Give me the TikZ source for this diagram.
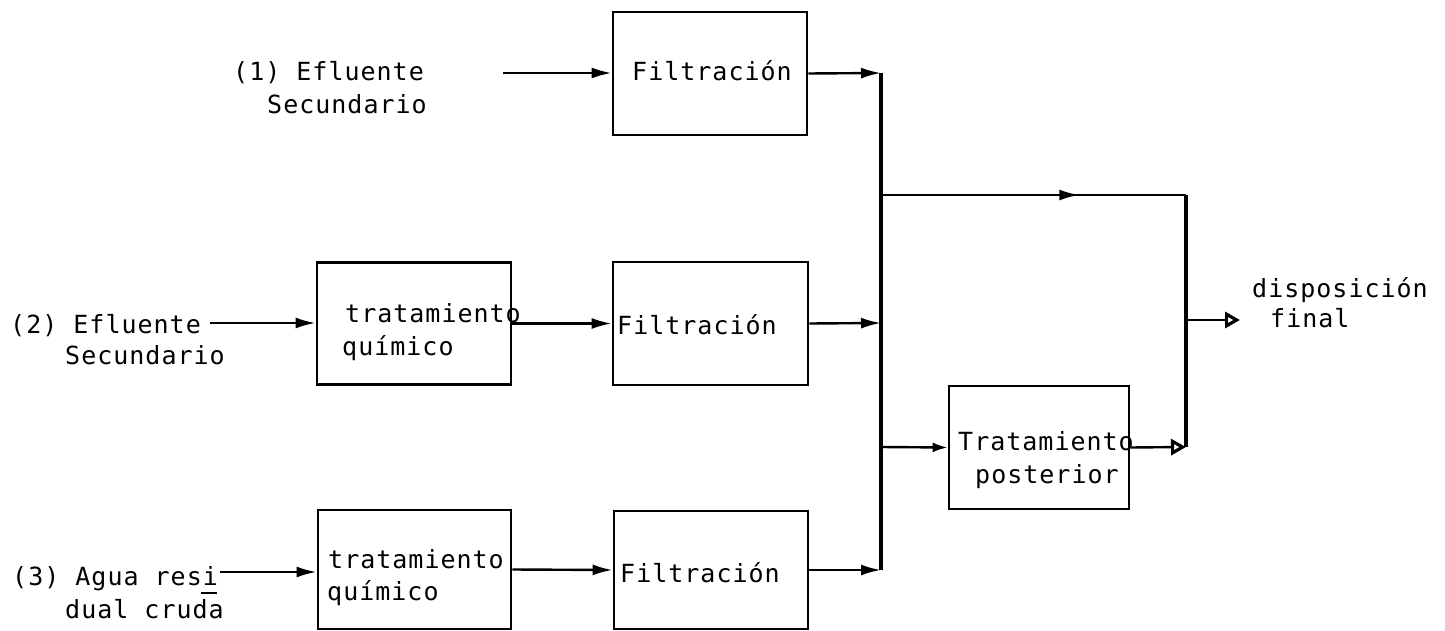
\documentclass[tikz,border=0pt]{standalone}
\usepackage{fontspec}
\setmonofont[LetterSpace=4]{DejaVu Sans Mono}
\usetikzlibrary{arrows.meta,decorations.markings}

\tikzset{
  box/.style={draw, line width=2.8pt, inner sep=0pt},
  lbl/.style={anchor=base west, inner sep=0pt, font=\ttfamily\fontsize{25}{30}\selectfont},
  flow/.style={line width=2.4pt, -{Latex[length=20pt,width=11pt]}},
  openflow/.style={line width=2.4pt, -{Triangle[open,length=15pt,width=16pt,line width=3.2pt]}},
  wire/.style={line width=3pt},
  midarrow/.style={line width=2.4pt, decoration={markings,
      mark=at position 0.65 with {\arrow{Latex[length=20pt,width=11pt]}}},
      postaction={decorate}},
}

\begin{document}
\begin{tikzpicture}[x=1pt,y=-1pt]
\useasboundingbox (0,0) rectangle (1445,631);

% process boxes
\node[box, minimum width=194pt, minimum height=123pt] (f1) at (710,73.5) {};
\node[box, minimum width=194pt, minimum height=122pt] (t2) at (414,323.5) {};
\node[box, minimum width=195pt, minimum height=123pt] (f2) at (710.5,323.5) {};
\node[box, minimum width=193pt, minimum height=119pt] (t3) at (414.5,569.5) {};
\node[box, minimum width=194pt, minimum height=118pt] (f3) at (711,570) {};
\node[box, minimum width=180pt, minimum height=123pt] (post) at (1039,447.5) {};

% labels
\node[lbl] (s1a) at (233,81) {(1) Efluente};
\node[lbl] (s1b) at (267,114) {Secundario};
\node[lbl] (s2a) at (10,333) {(2) Efluente};
\node[lbl] (s2b) at (65,364) {Secundario};
\node[lbl] (s3a) at (12,585) {(3) Agua resi};
\node[lbl] (s3b) at (65,618) {dual cruda};
\node[lbl] (lf1) at (632,81) {Filtración};
\node[lbl] (lt2a) at (345,322) {tratamiento};
\node[lbl] (lt2b) at (342,355) {químico};
\node[lbl] (lf2) at (617,334) {Filtración};
\node[lbl] (lt3a) at (328,568) {tratamiento};
\node[lbl] (lt3b) at (327,600) {químico};
\node[lbl] (lf3) at (620,582) {Filtración};
\node[lbl] (lp1) at (958,450) {Tratamiento};
\node[lbl] (lp2) at (975,483) {posterior};
\node[lbl] (ld1) at (1252,297) {disposición};
\node[lbl] (ld2) at (1270,327) {final};

% hyphen mark between the two lines of source (3)
\coordinate (hy1) at (201,593);
\coordinate (hy2) at (217,593);
\draw[line width=1.8pt] (hy1) -- (hy2);

% free ends and junctions
\coordinate (in1) at (503,73);
\coordinate (in2) at (210,323);
\coordinate (in3) at (220,572);
\coordinate (j1) at (881,73);
\coordinate (j2) at (881,323);
\coordinate (j3) at (881,570);
\coordinate (b1) at (881,195);
\coordinate (b2) at (881,447);
\coordinate (c1) at (1186,195);
\coordinate (c2) at (1186,447);
\coordinate (d1) at (1186,320);
\coordinate (d2) at (1240,320);

% inputs
\draw[flow] (in1) -- (in1 -| f1.west);
\draw[flow] (in2) -- (in2 -| t2.west);
\draw[flow] (in3) -- (in3 -| t3.west);

% chemical treatment to filtration
\draw[flow] (t2.east) -- (f2.west);
\draw[flow] (t3.east) -- (f3.west);

% filtration outputs to the collector
\draw[flow] (f1.east) -- (j1);
\draw[flow] (f2.east) -- (j2);
\draw[flow] (f3.east) -- (j3);
\draw[wire, line width=3.4pt] (j1) -- (j3);

% direct branch and post-treatment branch
\draw[midarrow] (b1) -- (c1);
\draw[wire, line width=3.4pt] (c1) -- (c2);
\draw[flow, -{Latex[length=15pt,width=10pt]}] (b2) -- (post.west);
\draw[openflow] (post.east) -- (c2);

% to final disposal
\draw[openflow] (d1) -- (d2);
\end{tikzpicture}
\end{document}
